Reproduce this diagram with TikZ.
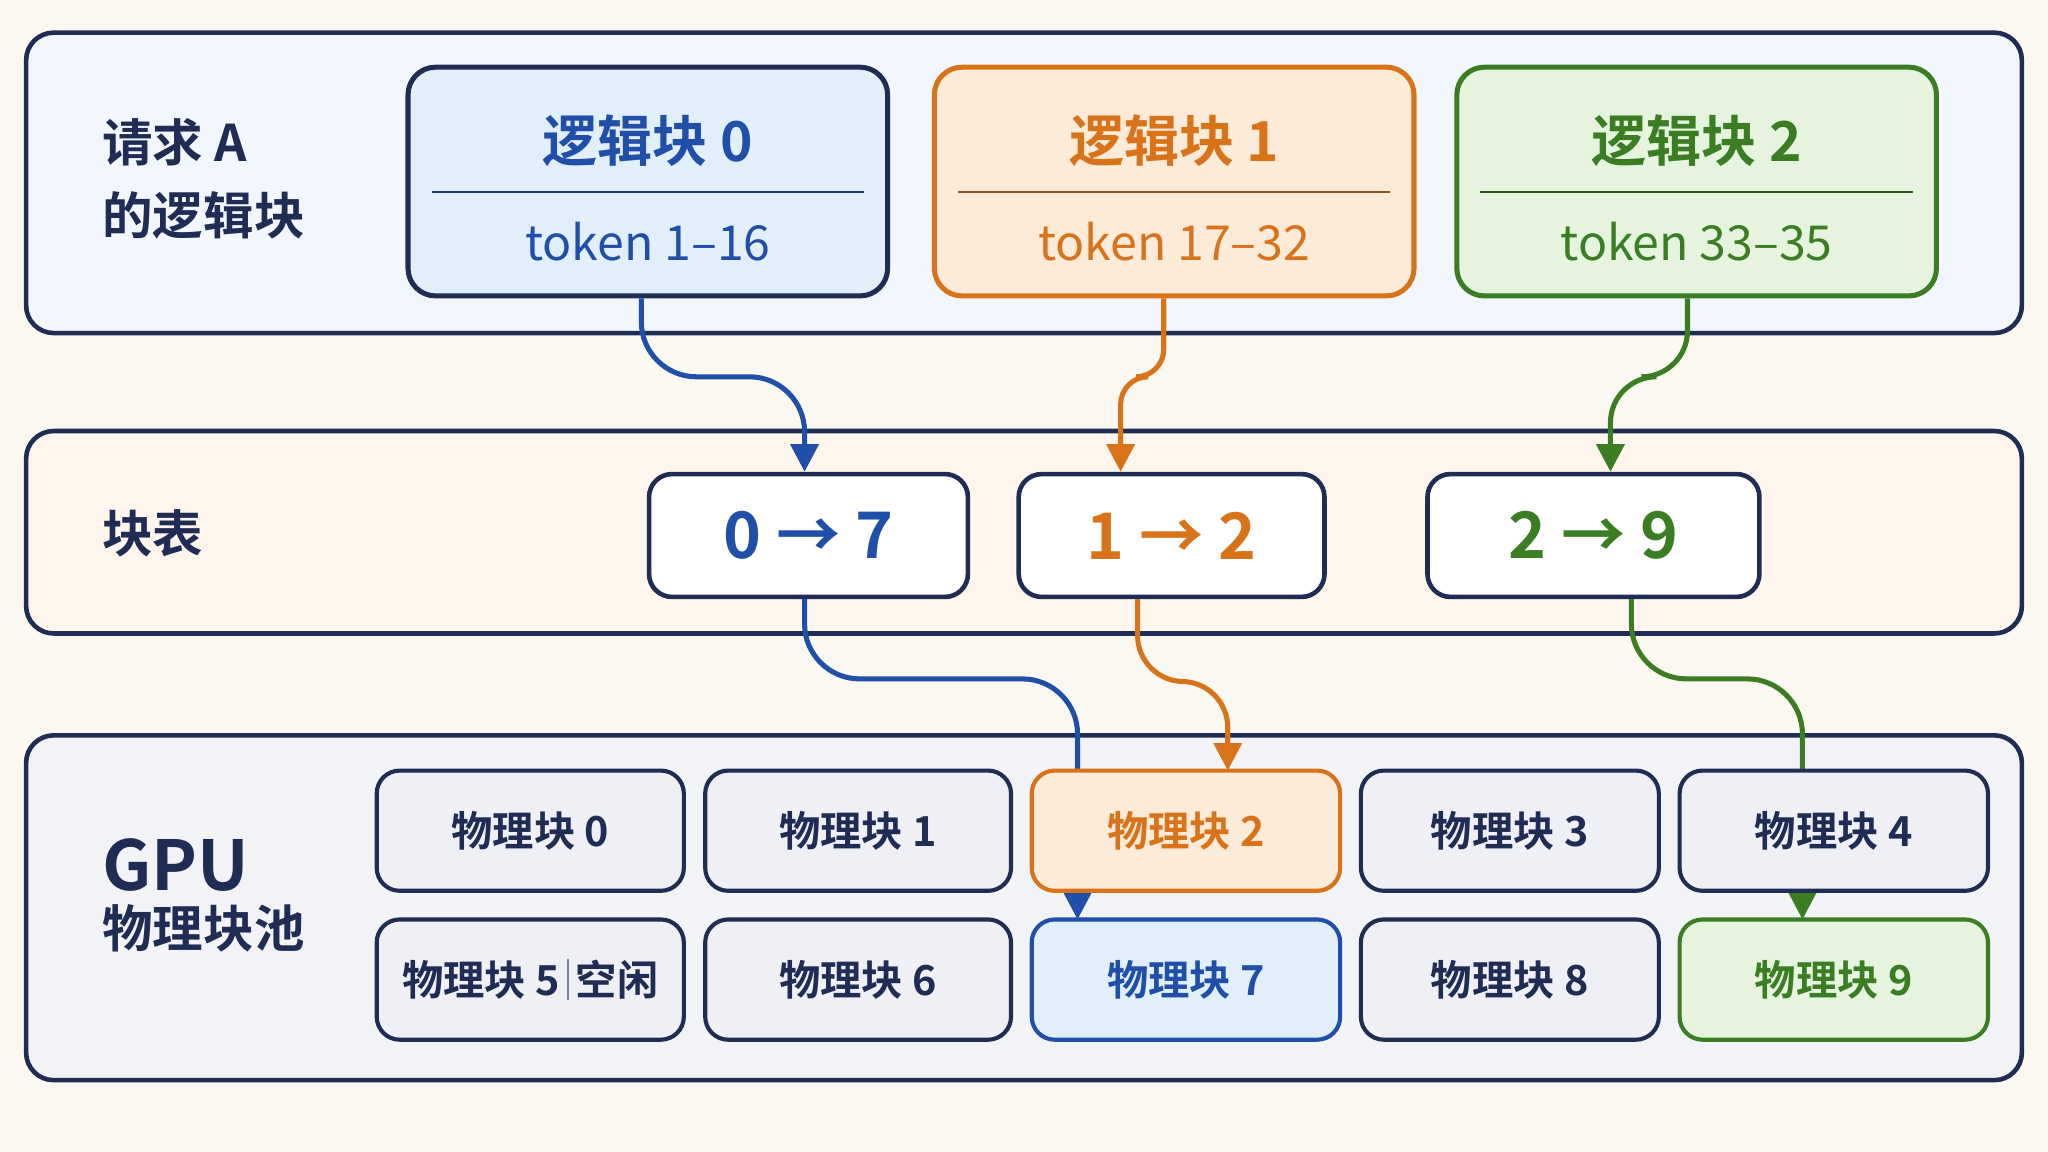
\documentclass[tikz,border=0pt]{standalone}
\usepackage{fontspec}
\setmainfont{Noto Sans CJK SC}[BoldFont={Noto Sans CJK SC Bold}]
\usetikzlibrary{arrows.meta,positioning}
\definecolor{bgc}{HTML}{FAF8F1}
\definecolor{navy}{HTML}{1F2D55}
\definecolor{cblue}{HTML}{1F4FA8}
\definecolor{corange}{HTML}{D9731A}
\definecolor{cgreen}{HTML}{3A7D22}
\definecolor{fblue}{HTML}{E3EEFB}
\definecolor{forange}{HTML}{FCEBD8}
\definecolor{fgreen}{HTML}{E6F4DF}
\definecolor{fgray}{HTML}{EEF0F5}
\tikzset{
  panel/.style={draw=navy,line width=1pt,rounded corners=6},
  lblock/.style={line width=1.1pt,rounded corners=6,minimum width=3.67cm,minimum height=1.75cm},
  mapbox/.style={draw=navy,fill=white,line width=1pt,rounded corners=5,font=\bfseries\fontsize{14}{16}\selectfont},
  phys/.style={draw=navy,fill=fgray,line width=0.9pt,rounded corners=5,minimum height=0.92cm,font=\bfseries\fontsize{9}{11}\selectfont,text=navy},
  link/.style={line width=1.1pt,rounded corners=6,-{Triangle[length=6pt,width=6pt]}},
  side/.style={anchor=west,align=left,text=navy,font=\bfseries\fontsize{11}{16}\selectfont}
}
\begin{document}
\begin{tikzpicture}[x=0.01cm,y=-0.01cm]
\fill[bgc] (0,0) rectangle (1568,882);
% panels
\draw[panel,fill=fblue!45] (20,25) rectangle (1548,255);
\draw[panel,fill=forange!45] (20,330) rectangle (1548,485);
\draw[panel,fill=fgray!80] (20,563) rectangle (1548,827);
\node[side] (reqA) at (66,137) {请求 A\\的逻辑块};
\node[side] (table) at (66,408) {块表};
\node[side,font=\bfseries\fontsize{15}{18}\selectfont] (gpu) at (66,662) {GPU};
\node[side] (pool) at (66,711) {物理块池};
% logical blocks
\node[lblock,draw=navy,fill=fblue] (lb0) at (496,139) {};
\node[lblock,draw=corange,fill=forange] (lb1) at (899,139) {};
\node[lblock,draw=cgreen,fill=fgreen] (lb2) at (1299,139) {};
\foreach \b/\c/\n/\t in {lb0/cblue/0/1--16,lb1/corange/1/17--32,lb2/cgreen/2/33--35}{
  \draw[\c!70!black,line width=0.5pt] ([xshift=0.2cm,yshift=-0.08cm]\b.west) -- ([xshift=-0.2cm,yshift=-0.08cm]\b.east);
  \node[text=\c,font=\bfseries\fontsize{12}{14}\selectfont] at ([yshift=0.31cm]\b.center) {逻辑块 \n};
  \node[text=\c,font=\fontsize{10.5}{12}\selectfont] at ([yshift=-0.46cm]\b.center) {token \t};
}
% block table
\node[mapbox,minimum width=2.44cm,minimum height=0.94cm,text=cblue] (m0) at (619,410) {0 → 7};
\node[mapbox,minimum width=2.34cm,minimum height=0.94cm,text=corange] (m1) at (897,410) {1 → 2};
\node[mapbox,minimum width=2.54cm,minimum height=0.94cm,text=cgreen] (m2) at (1220,410) {2 → 9};
% links
\draw[link,cblue,rounded corners=12] ([xshift=-0.05cm]lb0.south) -- ++(0,60) -| ([xshift=-0.03cm]m0.north);
\draw[link,corange] ([xshift=-0.08cm]lb1.south) -- ++(0,60) -| ([xshift=-0.39cm]m1.north);
\draw[link,cgreen,rounded corners=10] ([xshift=-0.07cm]lb2.south) -- ++(0,60) -| ([xshift=0.13cm]m2.north);
\coordinate (p7top) at (825,704);
\coordinate (p2top) at (940,590);
\coordinate (p9top) at (1380,704);
\draw[link,cblue,rounded corners=12] ([xshift=-0.03cm]m0.south) -- ++(0,61) -| (p7top);
\draw[link,corange,rounded corners=10] ([xshift=-0.26cm]m1.south) -- ++(0,63) -| (p2top);
\draw[link,cgreen,rounded corners=12] ([xshift=0.29cm]m2.south) -- ++(0,61) -| (p9top);
% physical blocks
\node[phys,minimum width=2.35cm] (p0) at (406,636) {物理块 0};
\node[phys,minimum width=2.34cm] (p1) at (657,636) {物理块 1};
\node[phys,minimum width=2.36cm,draw=corange,fill=forange,text=corange] (p2) at (908,636) {物理块 2};
\node[phys,minimum width=2.28cm] (p3) at (1156,636) {物理块 3};
\node[phys,minimum width=2.36cm] (p4) at (1404,636) {物理块 4};
\node[phys,minimum width=2.35cm] (p5) at (406,750) {物理块 5\,{\color{navy!60}\rule[-1pt]{0.5pt}{9pt}}\,空闲};
\node[phys,minimum width=2.34cm] (p6) at (657,750) {物理块 6};
\node[phys,minimum width=2.36cm,draw=cblue,fill=fblue,text=cblue] (p7) at (908,750) {物理块 7};
\node[phys,minimum width=2.28cm] (p8) at (1156,750) {物理块 8};
\node[phys,minimum width=2.36cm,draw=cgreen,fill=fgreen,text=cgreen] (p9) at (1404,750) {物理块 9};
\end{tikzpicture}
\end{document}
